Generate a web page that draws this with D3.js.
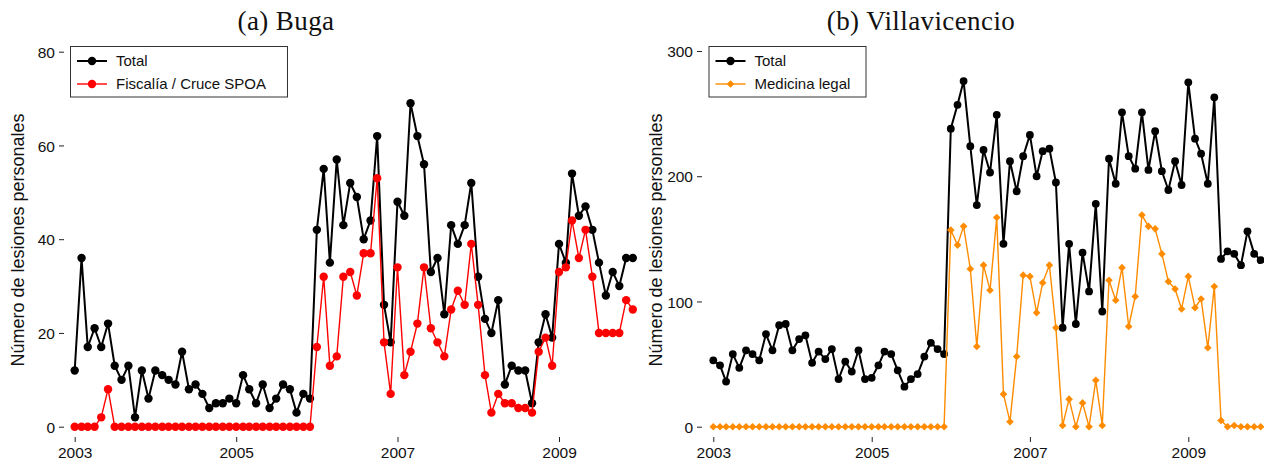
<!DOCTYPE html>
<html>
<head>
<meta charset="utf-8">
<script src="https://cdn.jsdelivr.net/npm/d3@7"></script>
<style>
  html, body { margin: 0; padding: 0; background: #fff; }
  svg { display: block; }
  .tick-label { font-family: "Liberation Sans", Arial, sans-serif; font-size: 15.5px; fill: #111; }
  .ytitle { font-family: "Liberation Sans", Arial, sans-serif; font-size: 18px; fill: #111; }
  .ptitle { font-family: "Liberation Serif", "DejaVu Serif", serif; font-size: 27px; letter-spacing: 0.4px; fill: #111; }
  .legend-text { font-family: "Liberation Sans", Arial, sans-serif; font-size: 15px; fill: #111; }
</style>
</head>
<body>
<svg id="chart" width="1264" height="462"></svg>
<script>
// Monthly series, January 2003 to December 2009
const startYear = 2003;
const xTickYears = [2003, 2005, 2007, 2009];

const bugaTotal = [
  12, 36, 17, 21, 17, 22, 13, 10, 13, 2, 12, 6,
  12, 11, 10, 9, 16, 8, 9, 7, 4, 5, 5, 6,
  5, 11, 8, 5, 9, 4, 6, 9, 8, 3, 7, 6,
  42, 55, 35, 57, 43, 52, 49, 40, 44, 62, 26, 18,
  48, 45, 69, 62, 56, 33, 36, 24, 43, 39, 43, 52,
  32, 23, 20, 27, 9, 13, 12, 12, 5, 18, 24, 19,
  39, 35, 54, 45, 47, 42, 35, 28, 33, 30, 36, 36
];
const bugaFiscalia = [
  0, 0, 0, 0, 2, 8, 0, 0, 0, 0, 0, 0,
  0, 0, 0, 0, 0, 0, 0, 0, 0, 0, 0, 0,
  0, 0, 0, 0, 0, 0, 0, 0, 0, 0, 0, 0,
  17, 32, 13, 15, 32, 33, 28, 37, 37, 53, 18, 7,
  34, 11, 16, 22, 34, 21, 18, 15, 25, 29, 26, 39,
  26, 11, 3, 7, 5, 5, 4, 4, 3, 16, 19, 13,
  33, 34, 44, 36, 42, 32, 20, 20, 20, 20, 27, 25
];
const villaTotal = [
  53, 49, 36, 58, 47, 61, 58, 53, 74, 61, 81, 82,
  61, 70, 73, 51, 60, 54, 62, 38, 52, 44, 61, 38,
  39, 49, 60, 58, 45, 32, 38, 42, 56, 67, 62, 58,
  238, 257, 276, 224, 177, 221, 203, 249, 146, 212, 188, 216,
  233, 200, 220, 222, 195, 79, 146, 82, 139, 108, 178, 92,
  214, 194, 251, 216, 206, 251, 205, 236, 204, 189, 212, 193,
  275, 230, 218, 194, 263, 134, 140, 138, 129, 156, 138, 133
];
const villaMedicina = [
  0, 0, 0, 0, 0, 0, 0, 0, 0, 0, 0, 0,
  0, 0, 0, 0, 0, 0, 0, 0, 0, 0, 0, 0,
  0, 0, 0, 0, 0, 0, 0, 0, 0, 0, 0, 0,
  157, 145, 160, 126, 64, 129, 109, 167, 26, 4, 56, 121,
  120, 91, 115, 129, 79, 1, 22, 0, 19, 0, 37, 1,
  117, 101, 127, 80, 104, 169, 160, 158, 138, 116, 110, 94,
  120, 95, 102, 63, 112, 5, 0, 1, 0, 0, 0, 0
];

const bugaYTicks = [0, 20, 40, 60, 80];
const villaYTicks = [0, 100, 200, 300];

const yTitle = "Número de lesiones personales";

const months = bugaTotal.map((_, i) => new Date(Date.UTC(startYear, i, 1)));

const svg = d3.select("#chart");

function diamondPath(r) {
  return `M0,${-r}L${r},0L0,${r}L${-r},0Z`;
}

function drawPanel(cfg) {
  const g = svg.append("g");
  const x = d3.scaleUtc()
    .domain([new Date(Date.UTC(xTickYears[0], 0, 1)), new Date(Date.UTC(xTickYears[xTickYears.length - 1], 0, 1))])
    .range([cfg.x0, cfg.x1]);
  const y = d3.scaleLinear().domain([0, cfg.yMax]).range([426.7, cfg.yTop]);

  // y axis: tick marks only, set off to the left of the data
  const yAxis = d3.axisLeft(y).tickValues(cfg.yTicks).tickSize(5).tickPadding(4);
  const ya = g.append("g").attr("transform", `translate(${cfg.yAxisX},0)`).call(yAxis);
  ya.select(".domain").remove();
  ya.selectAll(".tick line").attr("stroke", "#222").attr("stroke-width", 1);
  ya.selectAll(".tick text").attr("class", "tick-label").attr("dy", "0.36em");

  // x axis: tick marks only, below the data
  const xAxis = d3.axisBottom(x)
    .tickValues(xTickYears.map(yr => new Date(Date.UTC(yr, 0, 1))))
    .tickFormat(d3.utcFormat("%Y"))
    .tickSize(5).tickPadding(4);
  const xa = g.append("g").attr("transform", `translate(0,437)`).call(xAxis);
  xa.select(".domain").remove();
  xa.selectAll(".tick line").attr("stroke", "#222").attr("stroke-width", 1);
  xa.selectAll(".tick text").attr("class", "tick-label").attr("dy", "0.75em");

  // axis title
  g.append("text")
    .attr("class", "ytitle")
    .attr("transform", `translate(${cfg.titleX},${cfg.titleY}) rotate(-90)`)
    .attr("text-anchor", "middle")
    .text(yTitle);

  // panel title
  g.append("text")
    .attr("class", "ptitle")
    .attr("x", cfg.headX).attr("y", 30)
    .attr("text-anchor", "middle")
    .text(cfg.heading);

  const line = d3.line().x((d, i) => x(months[i])).y(d => y(d));

  // Total series
  g.append("path").datum(cfg.total)
    .attr("fill", "none").attr("stroke", "#000").attr("stroke-width", 2)
    .attr("stroke-linejoin", "round")
    .attr("d", line);
  g.append("g").selectAll("circle").data(cfg.total).join("circle")
    .attr("cx", (d, i) => x(months[i])).attr("cy", d => y(d))
    .attr("r", cfg.dotR).attr("fill", "#000");

  // Second series
  g.append("path").datum(cfg.other)
    .attr("fill", "none").attr("stroke", cfg.color).attr("stroke-width", 1.4)
    .attr("stroke-linejoin", "round")
    .attr("d", line);
  const og = g.append("g");
  if (cfg.diamond) {
    og.selectAll("path").data(cfg.other).join("path")
      .attr("transform", (d, i) => `translate(${x(months[i])},${y(d)})`)
      .attr("d", diamondPath(3.8)).attr("fill", cfg.color);
  } else {
    og.selectAll("circle").data(cfg.other).join("circle")
      .attr("cx", (d, i) => x(months[i])).attr("cy", d => y(d))
      .attr("r", cfg.dotR).attr("fill", cfg.color);
  }

  // legend
  const lg = g.append("g");
  lg.append("rect")
    .attr("x", cfg.legX + 0.5).attr("y", 46.5)
    .attr("width", cfg.legW).attr("height", 50.5)
    .attr("fill", "#fff").attr("stroke", "#333").attr("stroke-width", 1);
  const items = [
    { label: "Total", color: "#000", w: 2, diamond: false },
    { label: cfg.otherLabel, color: cfg.color, w: 1.4, diamond: cfg.diamond }
  ];
  items.forEach((it, k) => {
    const cy = 61 + k * 23;
    const lx = cfg.legX + 7;
    lg.append("line").attr("x1", lx).attr("x2", lx + 30).attr("y1", cy).attr("y2", cy)
      .attr("stroke", it.color).attr("stroke-width", it.w);
    if (it.diamond) {
      lg.append("path").attr("transform", `translate(${lx + 15},${cy})`)
        .attr("d", diamondPath(3.8)).attr("fill", it.color);
    } else {
      lg.append("circle").attr("cx", lx + 15).attr("cy", cy).attr("r", 4.2).attr("fill", it.color);
    }
    lg.append("text").attr("class", "legend-text")
      .attr("x", cfg.legX + 46).attr("y", cy + 5.3)
      .text(it.label);
  });
}

drawPanel({
  heading: "(a) Buga",
  headX: 286,
  x0: 74.7, x1: 559,
  yMax: 80, yTop: 51.7, yTicks: bugaYTicks,
  yAxisX: 64,
  titleX: 24, titleY: 240,
  total: bugaTotal, other: bugaFiscalia,
  otherLabel: "Fiscalía / Cruce SPOA",
  color: "#ff0000", diamond: false, dotR: 4.2,
  legX: 70, legW: 217
});

drawPanel({
  heading: "(b) Villavicencio",
  headX: 921,
  x0: 713.3, x1: 1188.3,
  yMax: 300, yTop: 51, yTicks: villaYTicks,
  yAxisX: 702,
  titleX: 662, titleY: 240,
  total: villaTotal, other: villaMedicina,
  otherLabel: "Medicina legal",
  color: "#ff8c00", diamond: true, dotR: 3.9,
  legX: 708.5, legW: 157
});
</script>
</body>
</html>
